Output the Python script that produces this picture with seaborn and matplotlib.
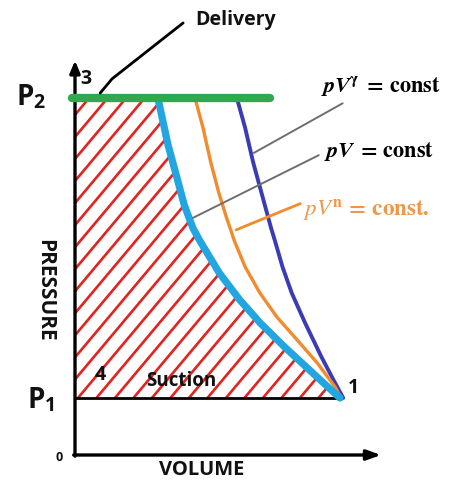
import matplotlib
matplotlib.use("Agg")
import matplotlib.pyplot as plt
import seaborn as sns
import pandas as pd
import numpy as np

sns.set_theme(style="white")
plt.rcParams["font.family"] = ["Open Sans", "DejaVu Sans"]
plt.rcParams["mathtext.fontset"] = "stix"

# Pressure levels (suction / delivery) and volume at point 1
P1 = 1.0
P2 = 6.26
V1 = 10.0

# Compression curves as (volume, pressure) pairs from delivery down to point 1
iso_V = [3.13, 3.51, 3.85, 4.12, 4.45, 4.72, 5.45, 6.22, 6.98, 7.92, 8.85, 9.88, 10.0]
iso_p = [6.26, 5.44, 4.86, 4.39, 3.98, 3.75, 3.19, 2.72, 2.32, 1.89, 1.49, 1.05, 1.0]

poly_V = [4.53, 4.83, 5.12, 5.42, 5.72, 6.02, 6.42, 6.98, 7.62, 8.38, 9.15, 9.82, 10.04]
poly_p = [6.26, 5.74, 5.14, 4.61, 4.16, 3.75, 3.30, 2.84, 2.42, 2.02, 1.61, 1.19, 1.0]

adia_V = [6.11, 6.42, 6.72, 7.06, 7.40, 7.55, 7.83, 8.18, 8.68, 9.30, 9.75, 10.12]
adia_p = [6.26, 5.74, 5.14, 4.56, 3.98, 3.75, 3.30, 2.84, 2.32, 1.72, 1.32, 1.0]

# Delivery line extent
deliv_V = [-0.11, 7.36]

# Scale of the drawing: pixels per unit volume / pressure
SX, SY = 26.5, 57.0

fig = plt.figure(figsize=(4.52, 4.88), dpi=100)
ax = fig.add_axes([0, 0, 1, 1])
ax.set_xlim(-75 / SX, 377 / SX)
ax.set_ylim(-33 / SY, 455 / SY)
ax.axis("off")

# Work area bounded by the pressure axis and the isothermal curve
area = ax.fill_betweenx(iso_p, 0, iso_V, facecolor="none", linewidth=0)
clip = area.get_paths()[0]

# Diagonal red hatching clipped to the work area
slope = 1 / np.tan(np.radians(50))           # horizontal run per vertical rise
step = 18.5 / SX
run = (P2 - P1) * SY * slope / SX
for c in np.arange(0.11 - 15 * step, V1 + step, step):
    ln, = ax.plot([c, c + run], [P1, P2], color="#e3231f", lw=1.9,
                  solid_capstyle="butt", zorder=1)
    ln.set_clip_path(clip, ax.transData)

# Axes with arrow heads
ax.annotate("", xy=(0, 6.92), xytext=(0, -0.02),
            arrowprops=dict(arrowstyle="-|>,head_length=0.6,head_width=0.25",
                            lw=2.4, color="black", shrinkA=0, shrinkB=0), zorder=3)
ax.annotate("", xy=(11.55, 0), xytext=(-0.05, 0),
            arrowprops=dict(arrowstyle="-|>,head_length=0.7,head_width=0.25",
                            lw=2.4, color="black", shrinkA=0, shrinkB=0), zorder=3)

# Suction line 4-1
ax.plot([0, V1], [P1, P1], color="black", lw=2.0, zorder=3)

# Compression curves
curves = pd.concat([
    pd.DataFrame({"V": adia_V, "p": adia_p, "law": "adiabatic"}),
    pd.DataFrame({"V": poly_V, "p": poly_p, "law": "polytropic"}),
    pd.DataFrame({"V": iso_V, "p": iso_p, "law": "isothermal"}),
])
styles = {"adiabatic": ("#3b3bb5", 2.8), "polytropic": ("#f28a2e", 2.4),
          "isothermal": ("#22a5e0", 5.2)}
for law, (col, lw) in styles.items():
    d = curves[curves["law"] == law]
    sns.lineplot(data=d, x="V", y="p", sort=False, estimator=None, ax=ax,
                 color=col, lw=lw, zorder=4, legend=False)
ax.set_xlabel("")
ax.set_ylabel("")

# Delivery line 3-2
ax.plot(deliv_V, [P2, P2], color="#2fa84f", lw=6, solid_capstyle="round", zorder=5)

# Point and axis labels
bold = dict(fontweight="bold", color="#111111")
ax.text(-1.64, P2, r"P$_\mathregular{2}$", fontsize=20, ha="center", va="center", **bold)
ax.text(-1.30, P1 - 0.05, r"P$_\mathregular{1}$", fontsize=20, ha="center", va="center", **bold)
ax.text(0.42, 6.59, "3", fontsize=14, ha="center", va="center", **bold)
ax.text(0.94, 1.40, "4", fontsize=14, ha="center", va="center", **bold)
ax.text(10.49, 1.18, "1", fontsize=14, ha="center", va="center", **bold)
ax.text(-0.6, -0.05, "0", fontsize=9, ha="center", va="center", **bold)
ax.text(4.0, 1.30, "Suction", fontsize=13.5, ha="center", va="center", **bold)
ax.text(4.79, -0.26, "VOLUME", fontsize=14.5, ha="center", va="center", **bold)
ax.text(-1.15, 2.89, "PRESSURE", fontsize=15, ha="center", va="center",
        rotation=270, **bold)
ax.text(6.08, 7.63, "Delivery", fontsize=14, ha="center", va="center", **bold)

# Delivery leader
ax.plot([0.95, 1.4, 4.08], [6.35, 6.6, 7.58], color="black", lw=2.0, zorder=6)

# Law labels with leader lines
ax.text(9.3, 6.46, r"$\mathbfit{pV}^{\mathbf{\gamma}}\;\mathbf{=\,const}$",
        fontsize=16, ha="left", va="center", color="black")
ax.plot([6.75, 10.1], [5.3, 6.17], color="#6e6e6e", lw=1.4, zorder=6)

ax.text(9.4, 5.33, r"$\mathbfit{pV}\;\mathbf{=\,const}$",
        fontsize=16, ha="left", va="center", color="black")
ax.plot([4.45, 9.2], [4.16, 5.26], color="#6e6e6e", lw=1.4, zorder=6)

ax.text(8.6, 4.3, r"$\mathit{pV}^{\mathbf{n}}\,\mathbf{=\,const.}$",
        fontsize=16.5, ha="left", va="center", color="#f0964a")
ax.plot([6.08, 8.5], [3.95, 4.41], color="#f28a2e", lw=2.0, zorder=6)

fig.savefig("out.png", dpi=100)
